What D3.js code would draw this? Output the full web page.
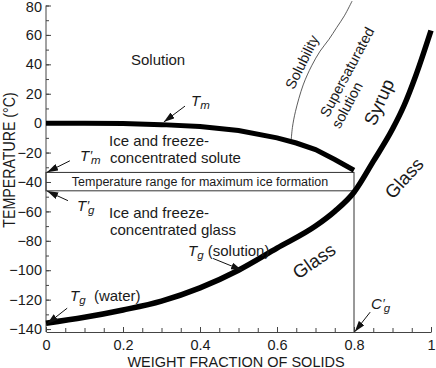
<!DOCTYPE html>
<html><head><meta charset="utf-8">
<script src="https://cdn.jsdelivr.net/npm/d3@7"></script>
<style>
body{margin:0;background:#fff;}
svg{display:block;font-family:"Liberation Sans",Arial,Helvetica,sans-serif;}
</style></head>
<body><svg id="c" width="436" height="368"></svg>
<script>
// ---- data ----
const xTicks = [0, 0.2, 0.4, 0.6, 0.8, 1];
const xTickLabels = ["0", "0.2", "0.4", "0.6", "0.8", "1"];
const yTicks = [-140, -120, -100, -80, -60, -40, -20, 0, 20, 40, 60, 80];
const tmX = [0, 0.1, 0.2, 0.3, 0.4, 0.5, 0.6, 0.65, 0.7, 0.75, 0.8];
const tmT = [0, 0, -0.3, -1, -2.3, -5, -10, -13.5, -18, -24.7, -32];
const tgX = [0, 0.1, 0.2, 0.3, 0.4, 0.5, 0.6, 0.7, 0.75, 0.8, 0.85, 0.9, 0.93, 0.96, 1.0];
const tgT = [-136, -132, -127, -121, -112, -100, -85, -70, -60, -47, -26, -4, 12, 32, 63];
const solX = [0.637, 0.64, 0.648, 0.668, 0.69, 0.712, 0.735, 0.755, 0.775, 0.795];
const solT = [-11, -3, 8, 26, 39, 49, 57, 65, 73, 83];
const tmPrime = -33.5, tgPrime = -46, cgPrime = 0.8;

const svg = d3.select("#c");
const xs = d3.scaleLinear().domain([0, 1]).range([46, 431]);
const ys = d3.scaleLinear().domain([-142, 80]).range([332, 5.5]);
const axisCol = "#444", txtCol = "#1a1a1a";

// axes
const gx = svg.append("g").attr("transform", `translate(0,${ys(-142)})`);
gx.call(d3.axisBottom(xs).tickValues(d3.range(0, 1.0001, 0.05)).tickSize(-4).tickSizeOuter(0).tickFormat(""));
gx.call(g => g.selectAll("path,line").attr("stroke", axisCol));
const gx2 = svg.append("g").attr("transform", `translate(0,${ys(-142)})`);
gx2.call(d3.axisBottom(xs).tickValues(xTicks).tickSize(-5).tickSizeOuter(0).tickFormat((d, i) => xTickLabels[i]));
gx2.selectAll("path").remove();
gx2.selectAll("line").attr("stroke", axisCol);
gx2.selectAll("text").attr("y", 7.5).attr("dy", "0.71em").attr("font-size", 14.5).attr("fill", txtCol).attr("font-family", "Liberation Sans, Arial, sans-serif");

const gy = svg.append("g").attr("transform", `translate(${xs(0)},0)`);
gy.call(d3.axisLeft(ys).tickValues(d3.range(-140, 80.001, 10)).tickSize(-3).tickSizeOuter(0).tickFormat(""));
gy.selectAll("line").attr("stroke", axisCol);
gy.select("path").attr("stroke", axisCol).attr("d", `M0,${ys(80)}V${ys(-142)}`);
const gy2 = svg.append("g").attr("transform", `translate(${xs(0)},0)`);
gy2.call(d3.axisLeft(ys).tickValues(yTicks).tickSize(-5).tickSizeOuter(0).tickFormat(d3.format("d")));
gy2.selectAll("path").remove();
gy2.selectAll("line").attr("stroke", axisCol);
gy2.selectAll("text").attr("x", -4).attr("font-size", 14.5).attr("fill", txtCol).attr("font-family", "Liberation Sans, Arial, sans-serif")
  .attr("y", d => d === 80 ? 1.5 : 0);

// axis titles
svg.append("text").attr("x", 236).attr("y", 366.5).attr("text-anchor", "middle")
  .attr("font-size", 14.5).attr("fill", txtCol).text("WEIGHT FRACTION OF SOLIDS");
svg.append("text").attr("transform", "translate(15,160) rotate(-90) scale(1,1.2)")
  .attr("text-anchor", "middle").attr("font-size", 14.2).attr("fill", txtCol).text("TEMPERATURE (°C)");

// box (temperature range) and C'g vertical
svg.append("rect").attr("x", xs(0)).attr("y", ys(tmPrime)).attr("width", xs(cgPrime) - xs(0))
  .attr("height", ys(tgPrime) - ys(tmPrime)).attr("fill", "none").attr("stroke", "#333").attr("stroke-width", 1);
svg.append("line").attr("x1", xs(cgPrime)).attr("x2", xs(cgPrime)).attr("y1", ys(tgPrime)).attr("y2", ys(-142))
  .attr("stroke", "#333").attr("stroke-width", 1);
svg.append("text").attr("x", (xs(0) + xs(cgPrime)) / 2).attr("y", (ys(tmPrime) + ys(tgPrime)) / 2).attr("dy", "0.36em")
  .attr("text-anchor", "middle").attr("font-size", 12.5).attr("fill", txtCol).text("Temperature range for maximum ice formation");

// curves
const lineLin = d3.line().x(d => xs(d[0])).y(d => ys(d[1]));
const lineSm = d3.line().x(d => xs(d[0])).y(d => ys(d[1])).curve(d3.curveMonotoneX);
const sol = d3.line().x(d => xs(d[0])).y(d => ys(d[1])).curve(d3.curveCatmullRom);
svg.append("path").attr("d", sol(solX.map((x, i) => [x, solT[i]]))).attr("fill", "none").attr("stroke", "#333").attr("stroke-width", 0.8);
svg.append("path").attr("d", lineLin(tmX.map((x, i) => [x, tmT[i]]))).attr("fill", "none").attr("stroke", "#000").attr("stroke-width", 5);
svg.append("path").attr("d", lineSm(tgX.map((x, i) => [x, tgT[i]]))).attr("fill", "none").attr("stroke", "#000").attr("stroke-width", 5.5);

// arrow marker
svg.append("defs").append("marker").attr("id", "ah").attr("viewBox", "0 0 11 7").attr("refX", 11).attr("refY", 3.5)
  .attr("markerWidth", 11).attr("markerHeight", 7).attr("markerUnits", "userSpaceOnUse").attr("orient", "auto")
  .append("path").attr("d", "M0,0L11,3.5L0,7Z").attr("fill", "#111");
const arrows = [
  [[0.361, 11.6], [0.306, 0.8]],
  [[0.062, -25.6], [0.003, -33.3]],
  [[0.057, -52.7], [0.003, -46.2]],
  [[0.055, -125.8], [0.003, -136.5]],
  [[0.434, -92], [0.509, -100]],
  [[0.842, -128.5], [0.802, -141.8]]
];
arrows.forEach(a => svg.append("line").attr("x1", xs(a[0][0])).attr("y1", ys(a[0][1])).attr("x2", xs(a[1][0])).attr("y2", ys(a[1][1]))
  .attr("stroke", "#111").attr("stroke-width", 1).attr("marker-end", "url(#ah)"));

// plain labels
function txt(x, y, s, size, opts = {}) {
  const t = svg.append("text").attr("x", x).attr("y", y).attr("font-size", size).attr("fill", txtCol)
    .attr("text-anchor", opts.anchor || "start");
  if (opts.rot != null) t.attr("transform", `rotate(${opts.rot},${x},${y})`).attr("dy", "0.35em");
  t.text(s);
  return t;
}
txt(131, 65, "Solution", 15);
txt(109, 146, "Ice and freeze-", 15);
txt(110, 163, "concentrated solute", 15);
txt(109, 218, "Ice and freeze-", 15);
txt(110, 235, "concentrated glass", 15);
txt(302, 62, "Solubility", 14.5, {anchor: "middle", rot: -64});
txt(347, 72, "Supersaturated", 14.5, {anchor: "middle", rot: -62});
txt(347, 105, "solution", 14.5, {anchor: "middle", rot: -62});
txt(379, 102, "Syrup", 18.5, {anchor: "middle", rot: -66});
txt(404, 178, "Glass", 18.5, {anchor: "middle", rot: -48});
txt(314, 261, "Glass", 18.5, {anchor: "middle", rot: -35});

// symbol labels with subscripts
function sym(x, y, main, prime, sub, extra) {
  const t = svg.append("text").attr("x", x).attr("y", y).attr("font-size", 15).attr("fill", txtCol);
  t.append("tspan").attr("font-style", "italic").text(main);
  if (prime) t.append("tspan").attr("font-style", "italic").attr("font-size", 13).attr("dx", 0.5).attr("dy", -1).text("′");
  t.append("tspan").attr("font-style", "italic").attr("font-size", 11.5).attr("dx", prime ? -1 : 0).attr("dy", prime ? 4 : 3).text(sub);
  if (extra) t.append("tspan").attr("dy", -3).text(extra);
}
sym(191, 106, "T", false, "m");
sym(80, 161, "T", true, "m");
sym(77, 211, "T", true, "g");
sym(70, 301, "T", false, "g", "\u00a0 (water)");
sym(188, 256, "T", false, "g", " (solution)");
sym(371, 309, "C", true, "g");
</script></body></html>
